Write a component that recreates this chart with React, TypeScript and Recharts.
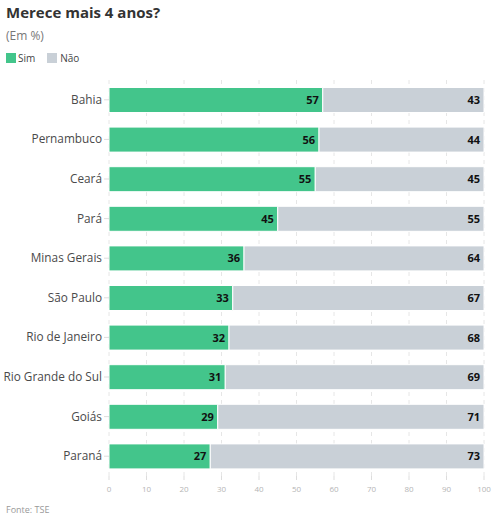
import React from "react";
import { BarChart, Bar, XAxis, YAxis, CartesianGrid, LabelList } from "recharts";

const states = ["Bahia", "Pernambuco", "Ceará", "Pará", "Minas Gerais", "São Paulo", "Rio de Janeiro", "Rio Grande do Sul", "Goiás", "Paraná"];
const sim = [57, 56, 55, 45, 36, 33, 32, 31, 29, 27];
const nao = [43, 44, 45, 55, 64, 67, 68, 69, 71, 73];
const xTicks = [0, 10, 20, 30, 40, 50, 60, 70, 80, 90, 100];

const data = states.map((s, i) => ({ state: s, sim: sim[i], nao: nao[i] }));

const FONT = "'Open Sans', 'Noto Sans', sans-serif";

const StateTick = (props: any) => {
  const { x, y, payload } = props;
  return (
    <text x={x} y={y} dy={4} textAnchor="end" fontSize={11.8} fill="#4a4a4a" fontFamily={FONT}>
      {payload.value}
    </text>
  );
};

const NumTick = (props: any) => {
  const { x, y, payload } = props;
  return (
    <text x={x} y={y} dy={10} textAnchor="middle" fontSize={8} fill="#b5b5b5" fontFamily={FONT}>
      {payload.value}
    </text>
  );
};

export default function App() {
  return (
    <div style={{ position: "absolute", left: 0, top: 0, width: 499, height: 521, background: "#fff", fontFamily: FONT }}>
      <div style={{ position: "absolute", left: 6, top: 2, fontSize: 15, fontWeight: 700, color: "#333" }}>Merece mais 4 anos?</div>
      <div style={{ position: "absolute", left: 6, top: 27, fontSize: 12, color: "#777" }}>(Em %)</div>
      <div style={{ position: "absolute", left: 6, top: 51, fontSize: 10, color: "#444", display: "flex", alignItems: "center" }}>
        <span style={{ width: 10, height: 10, background: "#43c58b", display: "inline-block", marginRight: 2 }} />
        <span style={{ marginRight: 12 }}>Sim</span>
        <span style={{ width: 10, height: 10, background: "#c9d0d7", display: "inline-block", marginRight: 3 }} />
        <span>Não</span>
      </div>
      <div style={{ position: "absolute", left: 0, top: 0 }}>
        <BarChart
          width={499}
          height={500}
          data={data}
          layout="vertical"
          margin={{ top: 80, right: 15, bottom: 0, left: 0 }}
          barCategoryGap={7.5}
        >
          <CartesianGrid vertical horizontal={false} strokeDasharray="4 4" stroke="#e6e6e6" />
          <XAxis
            type="number"
            domain={[0, 100]}
            ticks={xTicks}
            axisLine={false}
            tickLine={{ stroke: "#ddd" }}
            tickSize={4}
            tick={<NumTick />}
            height={24}
          />
          <YAxis
            type="category"
            dataKey="state"
            width={109}
            axisLine={false}
            tickLine={{ stroke: "#ddd" }}
            tickSize={5}
            tick={<StateTick />}
          />
          <Bar dataKey="sim" stackId="a" fill="#43c58b" stroke="#fff" strokeWidth={1} isAnimationActive={false}>
            <LabelList dataKey="sim" position="insideRight" offset={4} style={{ fontSize: 11, fontWeight: 700, fill: "#111", fontFamily: FONT }} />
          </Bar>
          <Bar dataKey="nao" stackId="a" fill="#c9d0d7" stroke="#fff" strokeWidth={1} isAnimationActive={false}>
            <LabelList dataKey="nao" position="insideRight" offset={4} style={{ fontSize: 11, fontWeight: 700, fill: "#111", fontFamily: FONT }} />
          </Bar>
        </BarChart>
      </div>
      <div style={{ position: "absolute", left: 6, top: 503, fontSize: 9, color: "#999" }}>Fonte: TSE</div>
    </div>
  );
}
